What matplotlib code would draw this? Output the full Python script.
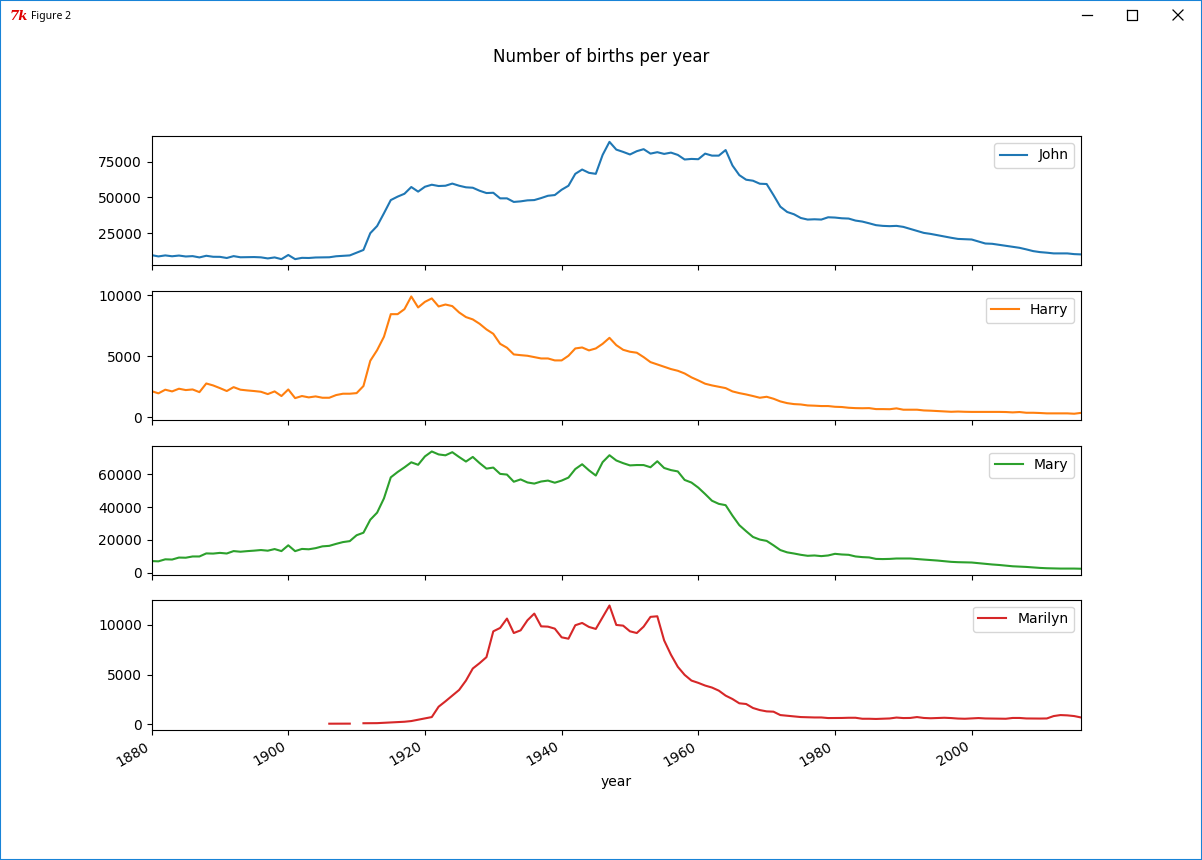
import numpy as np
import matplotlib
matplotlib.use("Agg")
import matplotlib.pyplot as plt
from matplotlib.lines import Line2D
from matplotlib.patches import Rectangle

nan = float("nan")
years = list(range(1880, 2017))
john = [9700, 8800, 9500, 8900, 9400, 8750, 9000, 8100, 9250, 8550,
        8500, 7700, 9000, 8200, 8300, 8350, 8150, 7400, 8100, 6900,
        9800, 6900, 7800, 7700, 8050, 8100, 8200, 8900, 9200, 9500,
        11400, 13300, 25000, 30000, 38900, 48100, 50500, 52500, 57200, 54000,
        57400, 58800, 57900, 58100, 59600, 58100, 57000, 56700, 54600, 53000,
        53200, 49300, 49300, 46800, 47200, 47900, 48100, 49500, 51100, 51600,
        55300, 58100, 66400, 69400, 67100, 66400, 79600, 88700, 83300, 81700,
        79900, 82200, 83600, 80500, 81500, 80300, 81200, 79600, 76400, 76800,
        76600, 80500, 79100, 79100, 83000, 72200, 65500, 62300, 61600, 59500,
        59300, 51600, 43500, 39800, 38200, 35600, 34500, 34700, 34500, 36100,
        35900, 35400, 35200, 33800, 33100, 31900, 30600, 30100, 29900, 30100,
        29400, 28000, 26600, 25200, 24500, 23600, 22700, 21800, 21000, 20800,
        20600, 19200, 17800, 17600, 16900, 16200, 15500, 14800, 13700, 12500,
        11800, 11400, 10900, 10900, 10900, 10400, 10200]
harry = [2150, 1970, 2270, 2130, 2350, 2240, 2290, 2070, 2780, 2620,
         2400, 2160, 2480, 2270, 2210, 2160, 2100, 1910, 2130, 1750,
         2290, 1580, 1750, 1640, 1720, 1610, 1610, 1830, 1940, 1940,
         1990, 2570, 4640, 5510, 6610, 8460, 8460, 8870, 9910, 9010,
         9470, 9750, 9090, 9250, 9120, 8600, 8220, 8030, 7670, 7210,
         6850, 6030, 5710, 5160, 5100, 5050, 4940, 4830, 4830, 4670,
         4670, 5050, 5650, 5730, 5490, 5650, 6030, 6520, 5920, 5540,
         5380, 5300, 4940, 4530, 4340, 4150, 3960, 3820, 3600, 3280,
         3030, 2760, 2620, 2510, 2400, 2130, 1990, 1880, 1750, 1610,
         1690, 1530, 1310, 1170, 1090, 1060, 980, 960, 930, 930,
         870, 850, 790, 760, 750, 760, 680, 680, 670, 740,
         630, 630, 630, 570, 550, 520, 490, 460, 480, 460,
         450, 450, 450, 450, 450, 440, 410, 440, 380, 380,
         360, 330, 330, 330, 330, 300, 370]
mary = [7065, 6919, 8148, 8012, 9217, 9128, 9889, 9888, 11754, 11648,
        12078, 11703, 13172, 12784, 13151, 13446, 13811, 13413, 14406, 13172,
        16707, 13136, 14486, 14275, 14962, 16066, 16370, 17580, 18665, 19259,
        22848, 24390, 32304, 36641, 45345, 58187, 61438, 64281, 67366, 65839,
        70982, 73982, 72173, 71634, 73536, 70593, 67830, 70642, 66868, 63510,
        64146, 60296, 59872, 55507, 56924, 55065, 54373, 55642, 56211, 54906,
        56200, 58040, 63250, 66168, 62465, 59284, 67464, 71687, 68480, 66846,
        65479, 65702, 65676, 64343, 68000, 63900, 62600, 61800, 56600, 55000,
        51900, 48000, 43900, 42000, 41200, 34800, 29000, 25300, 21800, 20200,
        19400, 16700, 13800, 12400, 11700, 10900, 10300, 10500, 10100, 10500,
        11500, 11100, 10900, 9900, 9500, 9300, 8400, 8300, 8400, 8650,
        8650, 8650, 8300, 8000, 7700, 7400, 7000, 6600, 6400, 6300,
        6200, 5800, 5400, 5000, 4700, 4300, 3900, 3700, 3500, 3200,
        2900, 2700, 2600, 2500, 2500, 2500, 2400]
marilyn = [nan] * 26 + [
    75, 80, 90, 80, nan,
    120, 130, 130, 170, 200, 235, 270, 340, 470,
    600, 740, 1780, 2320, 2890, 3460, 4400, 5610, 6150, 6750,
    9340, 9680, 10620, 9170, 9440, 10450, 11120, 9840, 9810, 9610,
    8740, 8600, 9950, 10180, 9780, 9580, 10750, 11930, 9980, 9910,
    9340, 9170, 9810, 10790, 10850, 8430, 6990, 5780, 4970, 4400,
    4170, 3900, 3700, 3390, 2890, 2550, 2120, 2050, 1650, 1440,
    1310, 1280, 940, 870, 800, 740, 720, 700, 700, 640,
    640, 650, 670, 670, 570, 570, 550, 570, 600, 690,
    640, 650, 740, 650, 620, 640, 670, 640, 590, 570,
    600, 640, 600, 590, 590, 570, 650, 650, 600, 590,
    590, 600, 840, 940, 910, 840, 700]

names = ["John", "Harry", "Mary", "Marilyn"]
series = [john, harry, mary, marilyn]
colors = ["#1f77b4", "#ff7f0e", "#2ca02c", "#d62728"]
yticks = [[25000, 50000, 75000], [0, 5000, 10000],
          [0, 20000, 40000, 60000], [0, 5000, 10000]]
xticks = list(range(1880, 2001, 20))

W, H = 1202, 860
fig = plt.figure(figsize=(W / 100, H / 100), dpi=100, facecolor="white")

def box(left, top, right, bottom):
    return [left / W, 1 - bottom / H, (right - left) / W, (bottom - top) / H]

edges = [(136, 265), (290.6, 419.6), (445.6, 574.6), (599.6, 729.6)]
axes = []
for (top, bottom), name, vals, col, yt in zip(edges, names, series, colors, yticks):
    ax = fig.add_axes(box(151.6, top, 1081, bottom))
    ax.plot(years, vals, color=col, label=name)
    ax.set_xlim(1880, 2016)
    ax.set_xticks(xticks)
    ax.set_yticks(yt)
    ax.legend(loc="upper right")
    axes.append(ax)

for ax in axes[:-1]:
    ax.tick_params(labelbottom=False)
axes[-1].set_xlabel("year")
for lab in axes[-1].get_xticklabels():
    lab.set_rotation(30)
    lab.set_ha("right")

fig.text(601 / W, 1 - 56.5 / H, "Number of births per year", ha="center",
         va="center", fontsize=12)

# window frame and title bar
fig.add_artist(Rectangle((0, 0), 1, 1, transform=fig.transFigure, fill=False,
                         edgecolor="#1883d7", linewidth=1.5))
fig.text(31 / W, 1 - 16 / H, "Figure 2", fontsize=7.5, family="Noto Sans",
         ha="left", va="center", color="black")
fig.text(10 / W, 1 - 16 / H, "7k", fontsize=9.5, family="DejaVu Serif",
         style="italic", weight="bold", ha="left", va="center", color="#e00000")

def px_line(xs, ys, lw=0.9):
    fig.add_artist(Line2D([x / W for x in xs], [1 - y / H for y in ys],
                          transform=fig.transFigure, color="black", linewidth=lw))

px_line([1082, 1092], [15, 15])
px_line([1127, 1137, 1137, 1127, 1127], [10, 10, 20, 20, 10])
px_line([1173, 1183], [10, 20])
px_line([1173, 1183], [20, 10])

fig.savefig("out.png", dpi=100, facecolor="white")
